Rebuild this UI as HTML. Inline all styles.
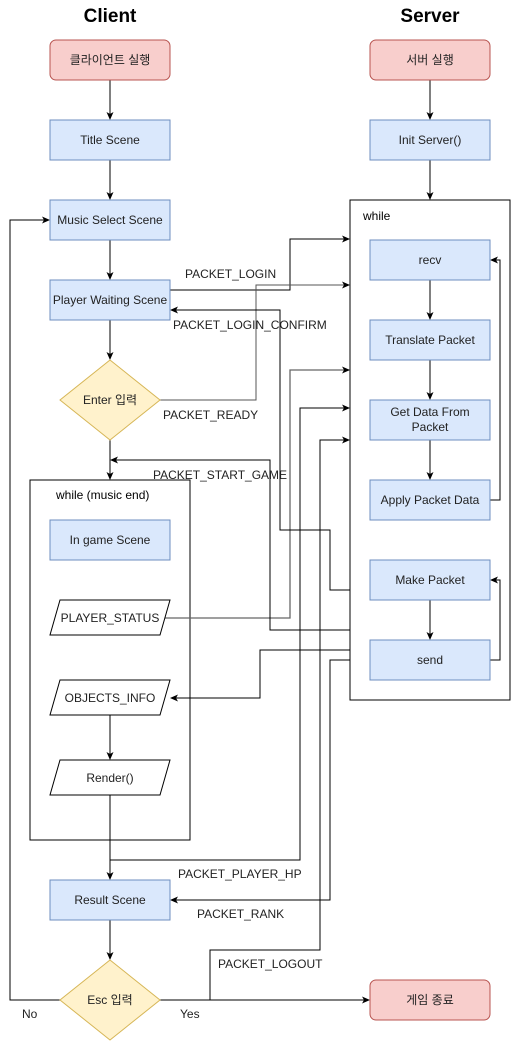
<!DOCTYPE html>
<html><head><meta charset="utf-8"><style>body{margin:0;background:#fff}svg{display:block}</style></head><body>
<svg width="511" height="1041" xmlns="http://www.w3.org/2000/svg" font-family="Liberation Sans, Noto Sans CJK KR, sans-serif" font-size="12">
<defs><marker id="a" markerWidth="8" markerHeight="8" refX="7" refY="4" orient="auto" markerUnits="userSpaceOnUse"><path d="M0,0.5 L8,4 L0,7.5 L2,4 Z" fill="#000"/></marker></defs>
<text x="110" y="22" font-size="19" font-weight="bold" text-anchor="middle">Client</text>
<text x="430" y="22" font-size="19" font-weight="bold" text-anchor="middle">Server</text>
<rect x="350" y="200" width="160" height="500" fill="#fff" stroke="#000"/>
<text x="363" y="220">while</text>
<rect x="30" y="480" width="160" height="360" fill="#fff" stroke="#000"/>
<text x="56" y="499">while (music end)</text>
<g fill="none" stroke="#000" stroke-width="1">
<path d="M110 80V119" marker-end="url(#a)"/>
<path d="M110 160V199" marker-end="url(#a)"/>
<path d="M110 240V279" marker-end="url(#a)"/>
<path d="M110 320V359" marker-end="url(#a)"/>
<path d="M110 440V479" marker-end="url(#a)"/>
<path d="M110 795V840"/>
<path d="M110 840V879" marker-end="url(#a)"/>
<path d="M110 920V959" marker-end="url(#a)"/>
<path d="M110 715V759" marker-end="url(#a)"/>
<path d="M60 1000H10V220H49" marker-end="url(#a)"/>
<path d="M160 1000H369" marker-end="url(#a)"/>
<path d="M430 80V119" marker-end="url(#a)"/>
<path d="M430 160V199" marker-end="url(#a)"/>
<path d="M430 280V319" marker-end="url(#a)"/>
<path d="M430 360V399" marker-end="url(#a)"/>
<path d="M430 440V479" marker-end="url(#a)"/>
<path d="M430 600V639" marker-end="url(#a)"/>
<path d="M490 500H500V260H491" marker-end="url(#a)"/>
<path d="M490 660H500V580H491" marker-end="url(#a)"/>
<path d="M170 290H290V239H349" marker-end="url(#a)"/>
<path d="M160 400H256V285H349" stroke="#555" marker-end="url(#a)"/>
<path d="M165 618H290V370H349" stroke="#666" stroke-width="1.3" marker-end="url(#a)"/>
<path d="M350 590H330V530H280V310H171" marker-end="url(#a)"/>
<path d="M350 630H270V460H111" marker-end="url(#a)"/>
<path d="M350 650H260V698H171" marker-end="url(#a)"/>
<path d="M110 860H300V408H349" marker-end="url(#a)"/>
<path d="M210 1000V950H320V440H349" marker-end="url(#a)"/>
<path d="M350 660H330V900H171" marker-end="url(#a)"/>
</g>
<g stroke="#b85450" fill="#f8cecc"><rect x="50" y="40" width="120" height="40" rx="6"/><rect x="370" y="40" width="120" height="40" rx="6"/><rect x="370" y="980" width="120" height="40" rx="6"/></g>
<g stroke="#6c8ebf" fill="#dae8fc">
<rect x="50" y="120" width="120" height="40"/><rect x="50" y="200" width="120" height="40"/><rect x="50" y="280" width="120" height="40"/>
<rect x="50" y="520" width="120" height="40"/><rect x="50" y="880" width="120" height="40"/>
<rect x="370" y="120" width="120" height="40"/><rect x="370" y="240" width="120" height="40"/><rect x="370" y="320" width="120" height="40"/><rect x="370" y="400" width="120" height="40"/><rect x="370" y="480" width="120" height="40"/><rect x="370" y="560" width="120" height="40"/><rect x="370" y="640" width="120" height="40"/>
</g>
<g stroke="#d6b656" fill="#fff2cc"><path d="M110 360L160 400L110 440L60 400Z"/><path d="M110 960L160 1000L110 1040L60 1000Z"/></g>
<g stroke="#000" fill="#fff"><path d="M60 600H170L160 635H50Z"/><path d="M60 680H170L160 715H50Z"/><path d="M60 760H170L160 795H50Z"/></g>
<g fill="#222" text-anchor="middle">
<text x="110" y="64">클라이언트 실행</text><text x="430" y="64">서버 실행</text><text x="430" y="1004">게임 종료</text>
<text x="110" y="144">Title Scene</text><text x="110" y="224">Music Select Scene</text><text x="110" y="304">Player Waiting Scene</text>
<text x="110" y="404">Enter 입력</text><text x="110" y="544">In game Scene</text>
<text x="110" y="622">PLAYER_STATUS</text><text x="110" y="702">OBJECTS_INFO</text><text x="110" y="782">Render()</text>
<text x="110" y="904">Result Scene</text><text x="110" y="1004">Esc 입력</text>
<text x="430" y="144">Init Server()</text><text x="430" y="264">recv</text><text x="430" y="344">Translate Packet</text>
<text x="430" y="416">Get Data From</text><text x="430" y="431">Packet</text>
<text x="430" y="504">Apply Packet Data</text><text x="430" y="584">Make Packet</text><text x="430" y="664">send</text>
</g>
<g fill="#222">
<text x="185" y="278">PACKET_LOGIN</text><text x="173" y="329">PACKET_LOGIN_CONFIRM</text>
<text x="163" y="419">PACKET_READY</text><text x="153" y="479">PACKET_START_GAME</text>
<text x="178" y="878">PACKET_PLAYER_HP</text><text x="197" y="918">PACKET_RANK</text><text x="218" y="968">PACKET_LOGOUT</text>
<text x="22" y="1018">No</text><text x="180" y="1018">Yes</text>
</g>
</svg>
</body></html>
